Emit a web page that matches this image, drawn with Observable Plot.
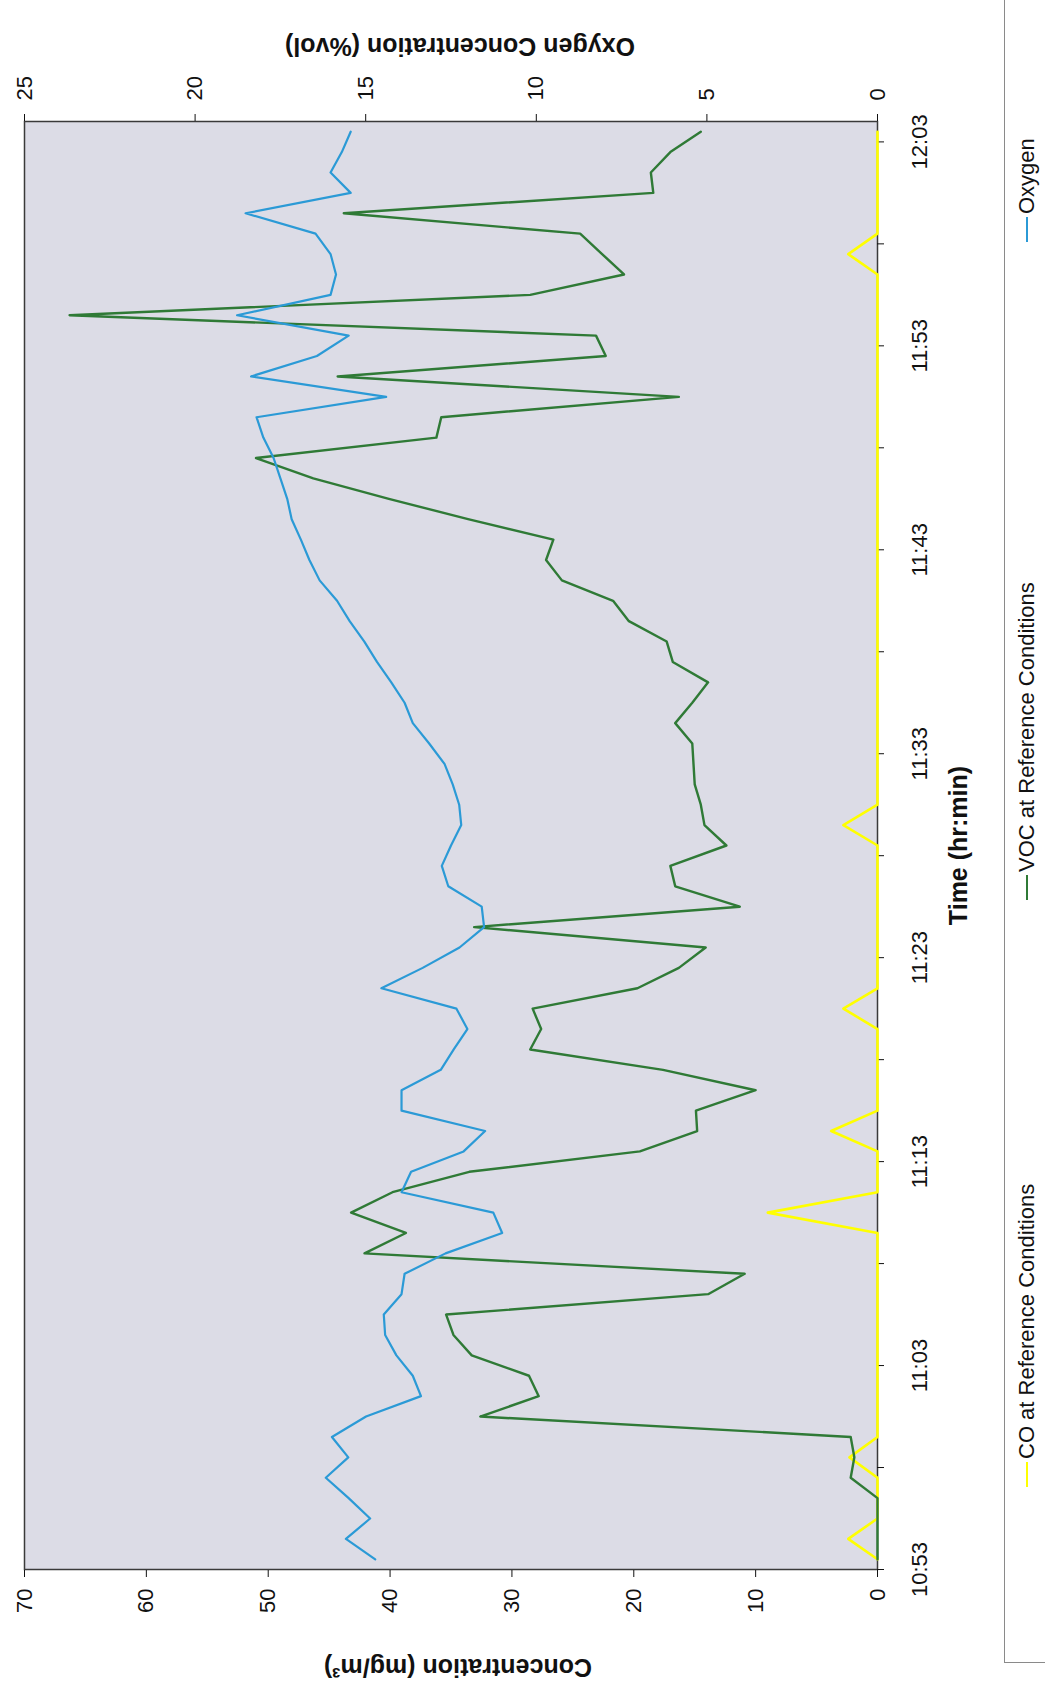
<!DOCTYPE html>
<html>
<head>
<meta charset="utf-8">
<script src="https://cdn.jsdelivr.net/npm/d3@7"></script>
<script src="https://cdn.jsdelivr.net/npm/@observablehq/plot@0.6"></script>
<style>
  html, body { margin: 0; padding: 0; background: #ffffff; overflow: hidden; }
  body { width: 1045px; height: 1692px; position: relative; }
  #page {
    position: absolute; left: 0; top: 0; width: 1692px; height: 1045px;
    transform-origin: 0 0; transform: translate(0px, 1692px) rotate(-90deg);
    font-family: "Liberation Sans", Arial, sans-serif; color: #111;
  }
  #chart { position: absolute; left: 0; top: 0; }
  #legend {
    position: absolute; left: 29px; top: 1004px; width: 1690px; height: 80px;
    border: 1.5px solid #8a8a8a; background: #fff; box-sizing: border-box;
  }
  .entry { position: absolute; top: 9px; display: flex; align-items: center; font-size: 22px; white-space: nowrap; }
  .swatch { display: inline-block; width: 25px; height: 2.5px; margin-right: 3px; }
</style>
</head>
<body>
<div id="page">
  <div id="chart"></div>
  <div id="legend"></div>
</div>
<script>
// ---- data ----
const timeLabels = ["10:53", "11:03", "11:13", "11:23", "11:33", "11:43", "11:53", "12:03"];
const concTicks = [0, 10, 20, 30, 40, 50, 60, 70];
const oxygenTicks = [0, 5, 10, 15, 20, 25];
const seriesNames = ["CO at Reference Conditions", "VOC at Reference Conditions", "Oxygen"];
const seriesColors = ["#ffff00", "#2f7a36", "#2b9ad6"];

// one value per minute, 10:53 ... 12:03 (71 readings)
const coValues = [
  0, 2.4, 0, 0, 0, 2.3, 0, 0, 0, 0,
  0, 0, 0, 0, 0, 0, 0, 9.0, 0, 0,
  0, 3.8, 0, 0, 0, 0, 0, 2.8, 0, 0,
  0, 0, 0, 0, 0, 0, 2.8, 0, 0, 0,
  0, 0, 0, 0, 0, 0, 0, 0, 0, 0,
  0, 0, 0, 0, 0, 0, 0, 0, 0, 0,
  0, 0, 0, 0, 2.4, 0, 0, 0, 0, 0,
  0
];
const vocValues = [
  0, 0, 0, 0, 2.2, 1.9, 2.2, 32.6, 27.8, 28.6,
  33.3, 34.8, 35.4, 13.9, 10.9, 42.1, 38.7, 43.2, 39.8, 33.5,
  19.5, 14.8, 14.9, 10.0, 17.6, 28.5, 27.6, 28.3, 19.7, 16.3,
  14.1, 33.1, 11.3, 16.6, 17.0, 12.4, 14.2, 14.5, 15.0, 15.1,
  15.2, 16.6, 15.2, 13.9, 16.8, 17.3, 20.4, 21.7, 25.9, 27.2,
  26.6, 33.6, 40.1, 46.3, 51.0, 36.2, 35.8, 16.3, 44.3, 22.3,
  23.1, 66.3, 28.5, 20.8, 22.6, 24.4, 43.8, 18.4, 18.6, 17.0,
  14.5
];
const oxygenValues = [
  14.72, 15.58, 14.87, 15.5, 16.17, 15.51, 15.99, 14.99, 13.38, 13.62,
  14.10, 14.43, 14.47, 13.95, 13.86, 12.66, 11.0, 11.26, 13.95, 13.67,
  12.13, 11.5, 13.95, 13.95, 12.8, 12.42, 12.02, 12.34, 14.54, 13.33,
  12.25, 11.53, 11.6, 12.58, 12.77, 12.5, 12.2, 12.26, 12.45, 12.69,
  13.14, 13.62, 13.86, 14.25, 14.67, 15.04, 15.47, 15.84, 16.35, 16.65,
  16.9, 17.17, 17.3, 17.5, 17.7, 18.0, 18.2, 14.4, 18.36, 16.43,
  15.5, 18.77, 16.03, 15.87, 16.03, 16.47, 18.52, 15.44, 16.03, 15.7,
  15.44
];

// ---- build table ----
const CONC_MAX = 70, OXY_MAX = 25, K = CONC_MAX / OXY_MAX; // secondary axis mapping
const rows = vocValues.map((v, i) => ({ pos: i + 0.5, co: coValues[i], voc: v, oxy: oxygenValues[i] }));
const xTicks = d3.range(0, 71, 5);

const W = 1692, H = 1000;
const titleStyle = { fontWeight: "bold", fontSize: 25, fill: "#111", textAnchor: "middle", lineAnchor: "middle" };
const chart = Plot.plot({
  width: W, height: H,
  marginLeft: 122, marginRight: 122, marginTop: 24, marginBottom: H - 877,
  x: { domain: [0, 71] },
  y: { domain: [0, CONC_MAX] },
  style: { fontFamily: '"Liberation Sans", Arial, sans-serif', fontSize: "22px", color: "#111", background: "transparent", overflow: "visible" },
  marks: [
    Plot.frame({ fill: "#dcdce6", stroke: "none" }),
    Plot.frame({ stroke: "#3a3a3a", strokeWidth: 1.5 }),
    Plot.axisY(concTicks, { anchor: "left", tickSize: 7, tickPadding: 12, label: null, fontSize: 22, tickFormat: d => String(d) }),
    Plot.axisY(oxygenTicks.map(v => v * K), { anchor: "right", tickSize: 7, tickPadding: 14, label: null, fontSize: 22, tickFormat: d => String(Math.round(d / K)) }),
    Plot.axisX(xTicks, { anchor: "bottom", tickSize: 7, tickPadding: 27, label: null, fontSize: 22,
      tickFormat: d => (d % 10 === 0 ? timeLabels[d / 10] : "") }),
    Plot.line(rows, { x: "pos", y: "co", stroke: seriesColors[0], strokeWidth: 2.6 }),
    Plot.line(rows, { x: "pos", y: "voc", stroke: seriesColors[1], strokeWidth: 2.4 }),
    Plot.line(rows, { x: "pos", y: d => d.oxy * K, stroke: seriesColors[2], strokeWidth: 2.2 }),
    Plot.text(["Concentration (mg/m³)"], { frameAnchor: "left", dx: -97, dy: 7, rotate: -90, ...titleStyle }),
    Plot.text(["Oxygen Concentration (%vol)"], { frameAnchor: "right", dx: 76, dy: 9, rotate: -90, ...titleStyle }),
    Plot.text(["Time (hr:min)"], { frameAnchor: "bottom", dy: 81, ...titleStyle })
  ]
});
document.getElementById("chart").appendChild(chart);

// ---- legend below the chart ----
const legend = document.getElementById("legend");
const entryLeft = [175, 762, 1420];
seriesNames.forEach((name, k) => {
  const e = document.createElement("div");
  e.className = "entry";
  e.style.left = entryLeft[k] + "px";
  const sw = document.createElement("span");
  sw.className = "swatch";
  sw.style.background = seriesColors[k];
  const t = document.createElement("span");
  t.textContent = name;
  e.appendChild(sw); e.appendChild(t);
  legend.appendChild(e);
});
</script>
</body>
</html>
